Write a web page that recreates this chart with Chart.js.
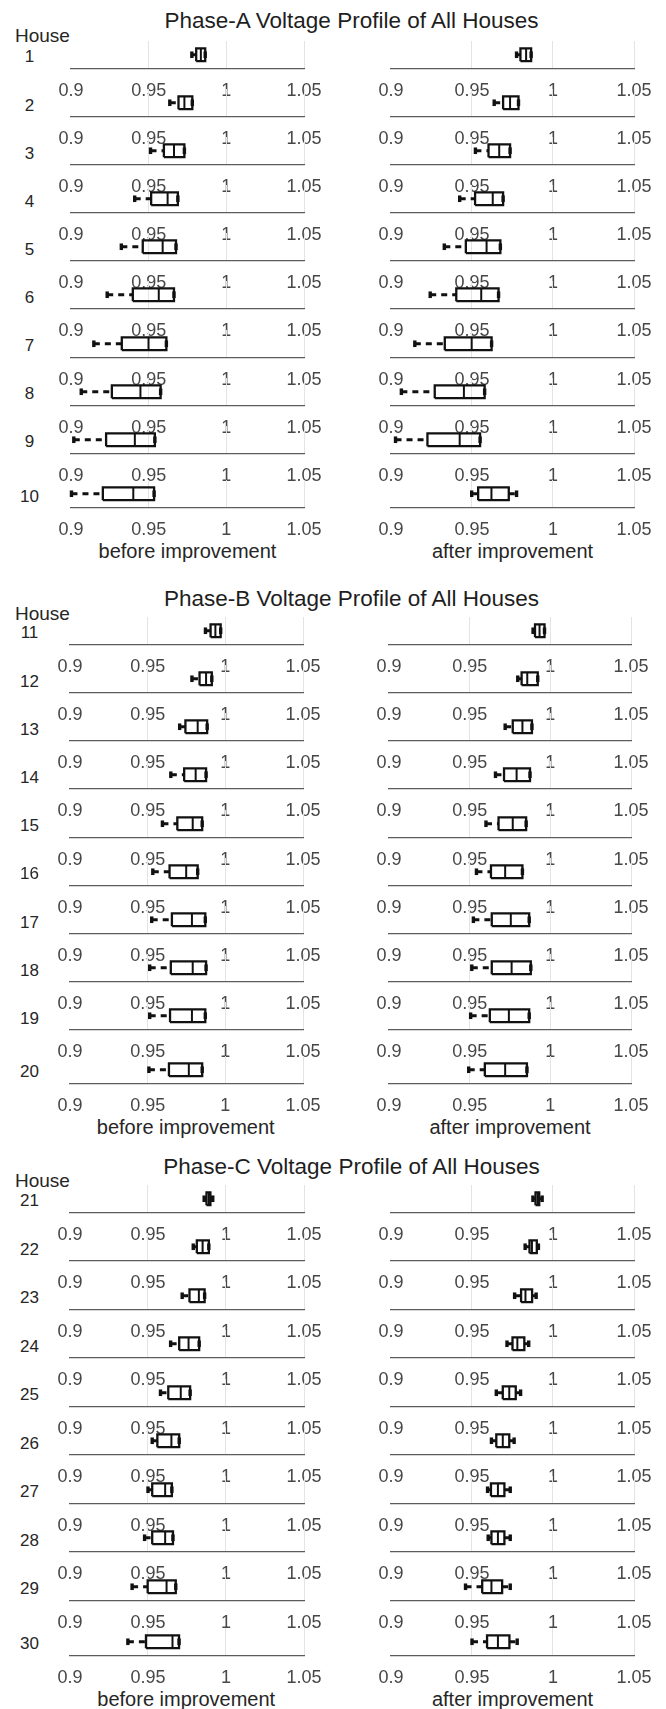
<!DOCTYPE html>
<html>
<head>
<meta charset="utf-8">
<script src="https://cdn.jsdelivr.net/npm/chart.js@4.4.0/dist/chart.umd.min.js"></script>
<style>
  body { margin: 0; background: #fff; }
  #page { position: relative; width: 666px; height: 1709px; overflow: hidden; background: #fff;
          font-family: "Liberation Sans", Arial, Helvetica, sans-serif; }
  #page canvas { position: absolute; }
  .txt { position: absolute; white-space: nowrap; }
</style>
</head>
<body>
<div id="page"></div>
<script>
// houses 1..30 (phase A = 1-10, phase B = 11-20, phase C = 21-30)
const houses = Array.from({length: 30}, (_, i) => i + 1);
const xTicks = [0.9, 0.95, 1, 1.05];

// box plot statistics, before improvement
const beforeMin = [0.9778, 0.9636, 0.9512, 0.9410, 0.9324, 0.9233, 0.9147, 0.9066, 0.9018, 0.9003,
                   0.9872, 0.9785, 0.9706, 0.9649, 0.9595, 0.9533, 0.9526, 0.9513, 0.9513, 0.9508,
                   0.9860, 0.9790, 0.9719, 0.9645, 0.9580, 0.9527, 0.9500, 0.9478, 0.9398, 0.9371];
const beforeQ1  = [0.9806, 0.9692, 0.9598, 0.9516, 0.9462, 0.9398, 0.9327, 0.9263, 0.9226, 0.9205,
                   0.9905, 0.9834, 0.9743, 0.9735, 0.9691, 0.9641, 0.9656, 0.9649, 0.9644, 0.9637,
                   0.9875, 0.9813, 0.9766, 0.9700, 0.9630, 0.9560, 0.9527, 0.9527, 0.9498, 0.9487];
const beforeMed = [0.9836, 0.9730, 0.9663, 0.9622, 0.9590, 0.9565, 0.9499, 0.9447, 0.9411, 0.9401,
                   0.9936, 0.9876, 0.9822, 0.9809, 0.9790, 0.9748, 0.9785, 0.9790, 0.9785, 0.9765,
                   0.9890, 0.9850, 0.9826, 0.9760, 0.9710, 0.9650, 0.9610, 0.9610, 0.9619, 0.9657];
const beforeQ3  = [0.9864, 0.9781, 0.9730, 0.9688, 0.9676, 0.9663, 0.9614, 0.9577, 0.9540, 0.9535,
                   0.9970, 0.9913, 0.9883, 0.9876, 0.9851, 0.9822, 0.9871, 0.9876, 0.9871, 0.9851,
                   0.9900, 0.9890, 0.9863, 0.9828, 0.9770, 0.9700, 0.9653, 0.9660, 0.9678, 0.9699];
const beforeMax = [0.9864, 0.9781, 0.9730, 0.9688, 0.9676, 0.9663, 0.9614, 0.9577, 0.9540, 0.9535,
                   0.9970, 0.9913, 0.9883, 0.9876, 0.9851, 0.9822, 0.9871, 0.9876, 0.9871, 0.9851,
                   0.9915, 0.9890, 0.9863, 0.9828, 0.9770, 0.9700, 0.9653, 0.9660, 0.9678, 0.9699];

// box plot statistics, after improvement
const afterMin = [0.9775, 0.9637, 0.9521, 0.9424, 0.9329, 0.9242, 0.9147, 0.9064, 0.9028, 0.9498,
                  0.9893, 0.9798, 0.9720, 0.9660, 0.9601, 0.9542, 0.9523, 0.9513, 0.9506, 0.9494,
                  0.9876, 0.9828, 0.9763, 0.9716, 0.9650, 0.9620, 0.9596, 0.9600, 0.9460, 0.9500];
const afterQ1  = [0.9799, 0.9692, 0.9602, 0.9519, 0.9462, 0.9403, 0.9332, 0.9270, 0.9225, 0.9538,
                  0.9905, 0.9822, 0.9767, 0.9713, 0.9679, 0.9632, 0.9637, 0.9637, 0.9625, 0.9594,
                  0.9892, 0.9855, 0.9803, 0.9750, 0.9690, 0.9650, 0.9617, 0.9620, 0.9563, 0.9593];
const afterMed = [0.9834, 0.9735, 0.9668, 0.9628, 0.9590, 0.9557, 0.9498, 0.9450, 0.9424, 0.9620,
                  0.9933, 0.9857, 0.9827, 0.9791, 0.9767, 0.9720, 0.9755, 0.9760, 0.9743, 0.9720,
                  0.9905, 0.9870, 0.9830, 0.9780, 0.9730, 0.9690, 0.9660, 0.9660, 0.9620, 0.9660];
const afterQ3  = [0.9865, 0.9787, 0.9735, 0.9692, 0.9675, 0.9664, 0.9621, 0.9578, 0.9550, 0.9727,
                  0.9964, 0.9922, 0.9886, 0.9874, 0.9850, 0.9827, 0.9869, 0.9879, 0.9869, 0.9855,
                  0.9915, 0.9900, 0.9871, 0.9823, 0.9770, 0.9730, 0.9700, 0.9700, 0.9686, 0.9731];
const afterMax = [0.9865, 0.9787, 0.9735, 0.9692, 0.9675, 0.9664, 0.9621, 0.9578, 0.9550, 0.9775,
                  0.9964, 0.9922, 0.9886, 0.9874, 0.9850, 0.9827, 0.9869, 0.9879, 0.9869, 0.9855,
                  0.9933, 0.9910, 0.9896, 0.9850, 0.9800, 0.9760, 0.9736, 0.9736, 0.9736, 0.9779];

const phaseTitles = ['Phase-A Voltage Profile of All Houses',
                     'Phase-B Voltage Profile of All Houses',
                     'Phase-C Voltage Profile of All Houses'];
const colTitles = ['before improvement', 'after improvement'];

const FONT = '"Liberation Sans", Arial, Helvetica, sans-serif';
const page = document.getElementById('page');

// layout of the three panels (pixel positions)
const panels = [
  { titleY: 29.3,   houseY: 41.7,   firstRow: 68.3,   pitch: 48.13, lastGap: 54.3, left: [71, 304],   right: [391, 634] },
  { titleY: 607.3,  houseY: 620,    firstRow: 644.3,  pitch: 48.2,  lastGap: 53.4, left: [69.5, 302], right: [389, 631] },
  { titleY: 1175.5, houseY: 1187.3, firstRow: 1212.3, pitch: 48.5,  lastGap: 55,   left: [69.5, 303], right: [391, 634] }
];
const AREA_H = 23;   // height of each small axis above its baseline

function addText(str, x, baseline, size, align, color) {
  const d = document.createElement('div');
  d.className = 'txt';
  d.textContent = str;
  d.style.fontSize = size + 'px';
  d.style.lineHeight = size + 'px';
  d.style.color = color;
  d.style.top = (baseline - 0.8465 * size) + 'px';
  d.style.left = x + 'px';
  if (align === 'center') d.style.transform = 'translateX(-50%)';
  page.appendChild(d);
}

// one horizontal box plot on its own small axis
function boxChart(stat, x0, x1, baseline) {
  const PAD = 34, H = 66, TOP = 2;
  const cv = document.createElement('canvas');
  cv.width = Math.round(x1 - x0) + 2 * PAD;
  cv.height = H;
  page.appendChild(cv);

  const B = 0.47, C = 0.24;
  const seg = (pts, extra) => Object.assign({
    data: pts, showLine: true, borderColor: '#111', borderWidth: 2.2,
    pointRadius: 0, fill: false, clip: false, borderCapStyle: 'butt', borderJoinStyle: 'miter'
  }, extra);

  const chart = new Chart(cv, {
    type: 'scatter',
    data: {
      datasets: [
        seg([{x: stat.min, y: 0}, {x: stat.q1, y: 0}], {borderDash: [6, 5], borderWidth: 3}),
        seg([{x: stat.q3, y: 0}, {x: stat.max, y: 0}], {borderDash: [6, 5], borderWidth: 3}),
        seg([{x: stat.min, y: -C}, {x: stat.min, y: C}], {borderWidth: 3.4}),
        seg([{x: stat.max, y: -C}, {x: stat.max, y: C}], {borderWidth: 3.4}),
        seg([{x: stat.q1, y: -B}, {x: stat.q3, y: -B}, {x: stat.q3, y: B}, {x: stat.q1, y: B}, {x: stat.q1, y: -B}],
            {borderWidth: 2.3}),
        seg([{x: stat.med, y: -B}, {x: stat.med, y: B}], {borderWidth: 2})
      ]
    },
    options: {
      responsive: false,
      maintainAspectRatio: false,
      animation: false,
      events: [],
      plugins: { legend: { display: false }, tooltip: { enabled: false } },
      layout: { padding: { left: PAD, right: PAD, top: TOP, bottom: 0 } },
      scales: {
        x: {
          type: 'linear', min: 0.9, max: 1.05,
          afterBuildTicks: axis => { axis.ticks = xTicks.map(v => ({value: v})); },
          grid: {
            color: ctx => (ctx.tick && ctx.tick.value === 0.9) ? 'rgba(0,0,0,0)' : '#e4e4e4',
            drawTicks: false, lineWidth: 1
          },
          border: { display: true, color: '#5c5c5c', width: 1.3 },
          ticks: {
            color: '#474747', padding: 12, maxRotation: 0, autoSkip: false,
            font: { family: FONT, size: 18 },
            callback: v => String(v)
          }
        },
        y: { type: 'linear', min: -1, max: 1, display: false }
      }
    }
  });

  // push the plot area down so that it is exactly AREA_H tall
  let ca = chart.chartArea;
  const extra = (ca.bottom - ca.top) - AREA_H;
  if (extra > 0.5) {
    chart.options.layout.padding.top = TOP + extra;
    chart.update();
    ca = chart.chartArea;
  }
  cv.style.left = (x0 - ca.left) + 'px';
  cv.style.top = (baseline - ca.bottom) + 'px';
  return chart;
}

panels.forEach((p, pi) => {
  addText(phaseTitles[pi], 351.5, p.titleY, 22.5, 'center', '#1e1e1e');
  addText('House', 15, p.houseY, 19, 'left', '#262626');

  for (let r = 0; r < 10; r++) {
    const idx = pi * 10 + r;
    const base = r < 9 ? p.firstRow + r * p.pitch : p.firstRow + 8 * p.pitch + p.lastGap;
    addText(String(houses[idx]), 29.5, base - 5.5, 17, 'center', '#262626');

    boxChart({min: beforeMin[idx], q1: beforeQ1[idx], med: beforeMed[idx], q3: beforeQ3[idx], max: beforeMax[idx]},
             p.left[0], p.left[1], base);
    boxChart({min: afterMin[idx], q1: afterQ1[idx], med: afterMed[idx], q3: afterQ3[idx], max: afterMax[idx]},
             p.right[0], p.right[1], base);

    if (r === 9) {
      addText(colTitles[0], (p.left[0] + p.left[1]) / 2, base + 50.6, 20, 'center', '#262626');
      addText(colTitles[1], (p.right[0] + p.right[1]) / 2, base + 50.6, 20, 'center', '#262626');
    }
  }
});
</script>
</body>
</html>
